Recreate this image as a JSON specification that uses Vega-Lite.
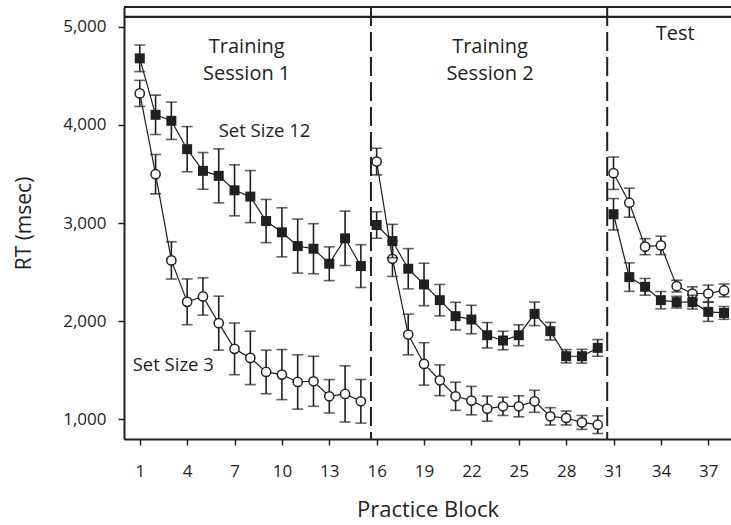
{
  "$schema": "https://vega.github.io/schema/vega-lite/v6.json",
  "width": 607,
  "height": 432,
  "autosize": {"type": "none"},
  "padding": {"left": 124, "top": 7, "right": 0, "bottom": 86},
  "background": "white",
  "config": {
    "view": {"stroke": null},
    "font": "Open Sans",
    "axis": {
      "grid": false,
      "domainColor": "#231f20",
      "domainWidth": 2,
      "tickColor": "#231f20",
      "tickWidth": 1.5,
      "tickSize": 6,
      "labelColor": "#231f20",
      "labelFont": "Open Sans",
      "labelFontSize": 17,
      "titleColor": "#231f20",
      "titleFont": "Open Sans",
      "titleFontWeight": "normal"
    },
    "axisX": {"labelPadding": 18, "titlePadding": 20, "titleFontSize": 22},
    "axisY": {"labelPadding": 12, "titlePadding": 28, "titleFontSize": 21, "format": ",d"}
  },
  "datasets": {
    "rt": [
      {"block":1,"set":"12","session":"1","rt":4677,"lo":4542,"hi":4812},
      {"block":2,"set":"12","session":"1","rt":4102,"lo":3902,"hi":4302},
      {"block":3,"set":"12","session":"1","rt":4041,"lo":3851,"hi":4231},
      {"block":4,"set":"12","session":"1","rt":3752,"lo":3522,"hi":3982},
      {"block":5,"set":"12","session":"1","rt":3531,"lo":3344,"hi":3718},
      {"block":6,"set":"12","session":"1","rt":3480,"lo":3205,"hi":3755},
      {"block":7,"set":"12","session":"1","rt":3333,"lo":3073,"hi":3593},
      {"block":8,"set":"12","session":"1","rt":3269,"lo":3004,"hi":3534},
      {"block":9,"set":"12","session":"1","rt":3020,"lo":2800,"hi":3240},
      {"block":10,"set":"12","session":"1","rt":2905,"lo":2655,"hi":3155},
      {"block":11,"set":"12","session":"1","rt":2765,"lo":2490,"hi":3040},
      {"block":12,"set":"12","session":"1","rt":2738,"lo":2483,"hi":2993},
      {"block":13,"set":"12","session":"1","rt":2585,"lo":2413,"hi":2757},
      {"block":14,"set":"12","session":"1","rt":2844,"lo":2567,"hi":3121},
      {"block":15,"set":"12","session":"1","rt":2561,"lo":2343,"hi":2779},
      {"block":16,"set":"12","session":"2","rt":2980,"lo":2845,"hi":3115},
      {"block":17,"set":"12","session":"2","rt":2816,"lo":2646,"hi":2986},
      {"block":18,"set":"12","session":"2","rt":2534,"lo":2329,"hi":2739},
      {"block":19,"set":"12","session":"2","rt":2374,"lo":2158,"hi":2590},
      {"block":20,"set":"12","session":"2","rt":2214,"lo":2054,"hi":2374},
      {"block":21,"set":"12","session":"2","rt":2051,"lo":1910,"hi":2192},
      {"block":22,"set":"12","session":"2","rt":2017,"lo":1872,"hi":2162},
      {"block":23,"set":"12","session":"2","rt":1857,"lo":1728,"hi":1986},
      {"block":24,"set":"12","session":"2","rt":1803,"lo":1709,"hi":1897},
      {"block":25,"set":"12","session":"2","rt":1857,"lo":1751,"hi":1963},
      {"block":26,"set":"12","session":"2","rt":2075,"lo":1955,"hi":2195},
      {"block":27,"set":"12","session":"2","rt":1898,"lo":1808,"hi":1988},
      {"block":28,"set":"12","session":"2","rt":1643,"lo":1575,"hi":1711},
      {"block":29,"set":"12","session":"2","rt":1643,"lo":1573,"hi":1713},
      {"block":30,"set":"12","session":"2","rt":1728,"lo":1643,"hi":1813},
      {"block":31,"set":"12","session":"T","rt":3089,"lo":2929,"hi":3249},
      {"block":32,"set":"12","session":"T","rt":2449,"lo":2304,"hi":2594},
      {"block":33,"set":"12","session":"T","rt":2350,"lo":2265,"hi":2435},
      {"block":34,"set":"12","session":"T","rt":2214,"lo":2126,"hi":2302},
      {"block":35,"set":"12","session":"T","rt":2194,"lo":2134,"hi":2254},
      {"block":36,"set":"12","session":"T","rt":2194,"lo":2124,"hi":2264},
      {"block":37,"set":"12","session":"T","rt":2095,"lo":1998,"hi":2192},
      {"block":38,"set":"12","session":"T","rt":2084,"lo":2019,"hi":2149},
      {"block":1,"set":"3","session":"1","rt":4320,"lo":4187,"hi":4453},
      {"block":2,"set":"3","session":"1","rt":3497,"lo":3297,"hi":3697},
      {"block":3,"set":"3","session":"1","rt":2619,"lo":2429,"hi":2809},
      {"block":4,"set":"3","session":"1","rt":2197,"lo":1964,"hi":2430},
      {"block":5,"set":"3","session":"1","rt":2252,"lo":2062,"hi":2442},
      {"block":6,"set":"3","session":"1","rt":1980,"lo":1705,"hi":2255},
      {"block":7,"set":"3","session":"1","rt":1718,"lo":1455,"hi":1981},
      {"block":8,"set":"3","session":"1","rt":1626,"lo":1354,"hi":1898},
      {"block":9,"set":"3","session":"1","rt":1483,"lo":1261,"hi":1705},
      {"block":10,"set":"3","session":"1","rt":1456,"lo":1201,"hi":1711},
      {"block":11,"set":"3","session":"1","rt":1381,"lo":1104,"hi":1658},
      {"block":12,"set":"3","session":"1","rt":1388,"lo":1133,"hi":1643},
      {"block":13,"set":"3","session":"1","rt":1235,"lo":1065,"hi":1405},
      {"block":14,"set":"3","session":"1","rt":1259,"lo":973,"hi":1545},
      {"block":15,"set":"3","session":"1","rt":1184,"lo":962,"hi":1406},
      {"block":16,"set":"3","session":"2","rt":3626,"lo":3490,"hi":3762},
      {"block":17,"set":"3","session":"2","rt":2636,"lo":2456,"hi":2816},
      {"block":18,"set":"3","session":"2","rt":1864,"lo":1657,"hi":2071},
      {"block":19,"set":"3","session":"2","rt":1565,"lo":1349,"hi":1781},
      {"block":20,"set":"3","session":"2","rt":1398,"lo":1241,"hi":1555},
      {"block":21,"set":"3","session":"2","rt":1235,"lo":1092,"hi":1378},
      {"block":22,"set":"3","session":"2","rt":1191,"lo":1046,"hi":1336},
      {"block":23,"set":"3","session":"2","rt":1109,"lo":981,"hi":1237},
      {"block":24,"set":"3","session":"2","rt":1133,"lo":1040,"hi":1226},
      {"block":25,"set":"3","session":"2","rt":1133,"lo":1026,"hi":1240},
      {"block":26,"set":"3","session":"2","rt":1184,"lo":1072,"hi":1296},
      {"block":27,"set":"3","session":"2","rt":1031,"lo":943,"hi":1119},
      {"block":28,"set":"3","session":"2","rt":1014,"lo":943,"hi":1085},
      {"block":29,"set":"3","session":"2","rt":969,"lo":898,"hi":1040},
      {"block":30,"set":"3","session":"2","rt":946,"lo":856,"hi":1036},
      {"block":31,"set":"3","session":"T","rt":3507,"lo":3342,"hi":3672},
      {"block":32,"set":"3","session":"T","rt":3207,"lo":3059,"hi":3355},
      {"block":33,"set":"3","session":"T","rt":2759,"lo":2677,"hi":2841},
      {"block":34,"set":"3","session":"T","rt":2772,"lo":2678,"hi":2866},
      {"block":35,"set":"3","session":"T","rt":2357,"lo":2297,"hi":2417},
      {"block":36,"set":"3","session":"T","rt":2282,"lo":2214,"hi":2350},
      {"block":37,"set":"3","session":"T","rt":2282,"lo":2197,"hi":2367},
      {"block":38,"set":"3","session":"T","rt":2313,"lo":2248,"hi":2378}
    ],
    "bounds": [{"x": 15.64}, {"x": 30.6}],
    "frame": [{"x0": 0, "x1": 38.44, "top": 5200}, {"x0": 0, "x1": 38.44, "top": 5100}],
    "notes": [
      {"x": 7.77, "y": 4791, "label": ["Training", "Session 1"], "kind": "session"},
      {"x": 23.18, "y": 4791, "label": ["Training", "Session 2"], "kind": "session"},
      {"x": 34.9, "y": 4927, "label": ["Test"], "kind": "session"},
      {"x": 8.9, "y": 3942, "label": ["Set Size 12"], "kind": "series"},
      {"x": 3.12, "y": 1556, "label": ["Set Size 3"], "kind": "series"}
    ]
  },
  "layer": [
    {
      "data": {"name": "frame"},
      "mark": {"type": "rule", "strokeWidth": 2.2, "color": "#231f20"},
      "encoding": {
        "x": {
          "field": "x0", "type": "quantitative",
          "scale": {"domain": [0, 38.44], "nice": false, "zero": false},
          "axis": {"values": [1,4,7,10,13,16,19,22,25,28,31,34,37]},
          "title": "Practice Block"
        },
        "x2": {"field": "x1"},
        "y": {
          "field": "top", "type": "quantitative",
          "scale": {"domain": [800, 5200], "nice": false, "zero": false},
          "axis": {"values": [1000, 2000, 3000, 4000, 5000], "format": ",d"},
          "title": "RT (msec)"
        }
      }
    },
    {
      "data": {"name": "bounds"},
      "mark": {"type": "rule", "strokeDash": [19, 6], "strokeWidth": 2, "color": "#231f20"},
      "encoding": {
        "x": {"field": "x", "type": "quantitative", "title": "Practice Block"}
      }
    },
    {
      "data": {"name": "rt"},
      "transform": [{"filter": "datum.set === '3'"}],
      "encoding": {
        "x": {"field": "block", "type": "quantitative", "title": "Practice Block"},
        "y": {"field": "rt", "type": "quantitative", "title": "RT (msec)"}
      },
      "layer": [
        {
          "mark": {"type": "line", "strokeWidth": 1.2, "color": "#231f20"},
          "encoding": {"detail": {"field": "session"}}
        },
        {
          "mark": {"type": "errorbar", "ticks": {"size": 11}, "thickness": 1.6, "color": "#231f20"},
          "encoding": {
            "y": {"field": "lo", "type": "quantitative", "title": "RT (msec)"},
            "y2": {"field": "hi"}
          }
        },
        {
          "mark": {"type": "point", "shape": "circle", "size": 85, "filled": true, "fill": "white", "stroke": "#231f20", "strokeWidth": 1.5, "opacity": 1}
        }
      ]
    },
    {
      "data": {"name": "rt"},
      "transform": [{"filter": "datum.set === '12'"}],
      "encoding": {
        "x": {"field": "block", "type": "quantitative", "title": "Practice Block"},
        "y": {"field": "rt", "type": "quantitative", "title": "RT (msec)"}
      },
      "layer": [
        {
          "mark": {"type": "line", "strokeWidth": 1.2, "color": "#231f20"},
          "encoding": {"detail": {"field": "session"}}
        },
        {
          "mark": {"type": "errorbar", "ticks": {"size": 11}, "thickness": 1.6, "color": "#231f20"},
          "encoding": {
            "y": {"field": "lo", "type": "quantitative", "title": "RT (msec)"},
            "y2": {"field": "hi"}
          }
        },
        {
          "mark": {"type": "square", "size": 100, "color": "#231f20", "opacity": 1}
        }
      ]
    },
    {
      "data": {"name": "notes"},
      "transform": [{"filter": "datum.kind === 'session'"}],
      "mark": {"type": "text", "fontSize": 20, "lineHeight": 27, "color": "#231f20", "baseline": "middle", "align": "center"},
      "encoding": {
        "x": {"field": "x", "type": "quantitative", "title": "Practice Block"},
        "y": {"field": "y", "type": "quantitative", "title": "RT (msec)"},
        "text": {"field": "label"}
      }
    },
    {
      "data": {"name": "notes"},
      "transform": [{"filter": "datum.kind === 'series'"}],
      "mark": {"type": "text", "fontSize": 18.5, "color": "#231f20", "baseline": "middle", "align": "center"},
      "encoding": {
        "x": {"field": "x", "type": "quantitative", "title": "Practice Block"},
        "y": {"field": "y", "type": "quantitative", "title": "RT (msec)"},
        "text": {"field": "label"}
      }
    }
  ]
}
